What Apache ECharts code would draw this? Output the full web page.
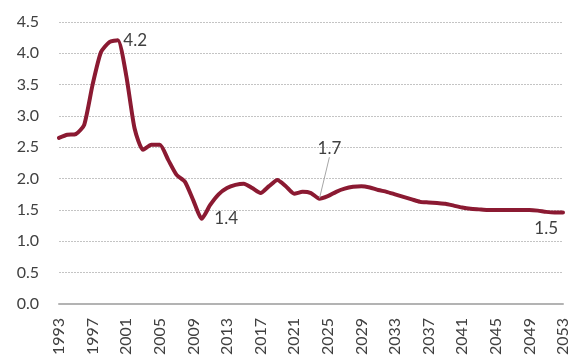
<!DOCTYPE html>
<html>
<head>
<meta charset="utf-8">
<title>Line chart</title>
<script src="https://cdn.jsdelivr.net/npm/echarts@6/dist/echarts.min.js"></script>
<style>
  html, body { margin: 0; padding: 0; background: #fff; }
  #chart { width: 571px; height: 360px; }
</style>
</head>
<body>
<div id="chart"></div>
<script>
// years 1993 - 2053
const years = []
for (let y = 1993; y <= 2053; y++) years.push(String(y))

const values = [
  2.65, 2.70, 2.71, 2.86, 3.50, 4.02, 4.18, 4.21, 3.65, 2.80,
  2.46, 2.54, 2.54, 2.30, 2.06, 1.95, 1.65, 1.36, 1.58, 1.75,
  1.85, 1.90, 1.92, 1.85, 1.77, 1.88, 1.98, 1.88, 1.76, 1.79,
  1.77, 1.68, 1.72, 1.79, 1.84, 1.87, 1.88, 1.86, 1.82, 1.79,
  1.75, 1.71, 1.67, 1.63, 1.62, 1.61, 1.60, 1.57, 1.54, 1.52,
  1.51, 1.50, 1.50, 1.50, 1.50, 1.50, 1.50, 1.49, 1.47, 1.46,
  1.46,
]

const yTicks = [0, 0.5, 1, 1.5, 2, 2.5, 3, 3.5, 4, 4.5]

// annotated points: year -> text
const callouts = { '2000': '4.2', '2010': '1.4', '2024': '1.7', '2051': '1.5' }

const LINE = '#8b1a32'
const TEXT = '#404040'
const FONT = 'Lato'

const labelFor = {
  '2000': { position: 'right', distance: 5 },
  '2010': { position: 'right', distance: 12, offset: [0, 2] },
  '2024': { position: 'top', distance: 5 },
  '2051': { position: 'bottom', distance: 8 },
}

const seriesData = values.map((v, i) => {
  const yr = years[i]
  if (!callouts[yr]) return v
  return {
    value: v,
    label: {
      show: true,
      formatter: callouts[yr],
      color: TEXT,
      fontSize: 17,
      fontFamily: FONT,
      ...labelFor[yr],
    },
    labelLine: yr === '2024'
      ? { show: true, lineStyle: { color: '#a6a6a6', width: 1 } }
      : { show: false },
  }
})

const chart = echarts.init(document.getElementById('chart'), null, { renderer: 'canvas' })

chart.setOption({
  animation: false,
  grid: { left: 59, right: 6, top: 22, bottom: 56 },
  xAxis: {
    type: 'category',
    data: years,
    boundaryGap: false,
    axisLine: { lineStyle: { color: '#b3b3b3', width: 2 } },
    axisTick: { show: false },
    axisLabel: {
      interval: 3,
      rotate: 90,
      margin: 14,
      color: TEXT,
      fontSize: 16,
      fontFamily: FONT,
    },
    splitLine: { show: false },
  },
  yAxis: {
    type: 'value',
    min: 0,
    max: 4.5,
    interval: 0.5,
    axisLine: { show: false },
    axisTick: { show: false },
    axisLabel: {
      margin: 20,
      color: TEXT,
      fontSize: 16,
      fontFamily: FONT,
      formatter: (v) => yTicks.includes(v) ? v.toFixed(1) : '',
    },
    splitLine: { lineStyle: { color: '#c4c4c4', type: [2, 1], width: 1 } },
  },
  series: [
    {
      type: 'line',
      data: seriesData,
      smooth: 0.2,
      showSymbol: true,
      showAllSymbol: true,
      symbol: 'circle',
      symbolSize: 1,
      itemStyle: { color: LINE },
      lineStyle: { color: LINE, width: 4, cap: 'round', join: 'round' },
      labelLayout: (p) => {
        if (years[p.dataIndex] === '2024') return { dx: 10, dy: -36 }
        return {}
      },
    },
  ],
})
</script>
</body>
</html>
